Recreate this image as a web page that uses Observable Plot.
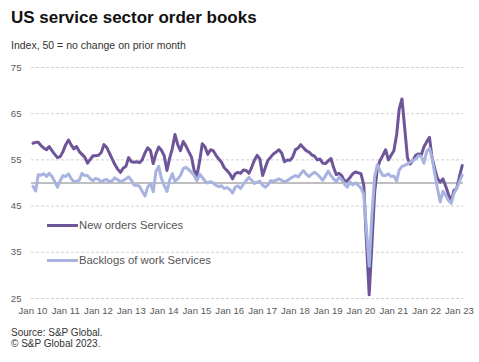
<!DOCTYPE html>
<html><head><meta charset="utf-8">
<script src="https://cdn.jsdelivr.net/npm/d3@7"></script>
<script src="https://cdn.jsdelivr.net/npm/@observablehq/plot@0.6"></script>
<style>
body{margin:0;background:#fff;font-family:"Liberation Sans",Arial,sans-serif;}
#wrap{position:relative;width:479px;height:362px;overflow:hidden;}
#title{position:absolute;left:11px;top:8px;font-size:17px;font-weight:bold;line-height:20px;color:#111;white-space:nowrap;}
#sub{position:absolute;left:11px;top:39px;font-size:10.5px;line-height:12px;color:#333;white-space:nowrap;}
#chart{position:absolute;left:0;top:55px;}
#src{position:absolute;left:11px;top:327px;font-size:10px;line-height:11px;color:#333;white-space:nowrap;}
.leg{position:absolute;left:47px;font-size:11.3px;line-height:14px;color:#555;display:flex;align-items:center;white-space:nowrap;}
.leg .sw{display:inline-block;width:31px;height:3px;margin-right:1px;}
</style></head><body>
<div id="wrap">
  <div id="title">US service sector order books</div>
  <div id="sub">Index, 50 = no change on prior month</div>
  <div id="chart"></div>
  <div class="leg" style="top:218px"><span class="sw" style="background:#6e5599"></span>New orders Services</div>
  <div class="leg" style="top:253px"><span class="sw" style="background:#a9b3e0"></span>Backlogs of work Services</div>
  <div id="src">Source: S&amp;P Global.<br>© S&amp;P Global 2023.</div>
</div>
<script>
// Monthly series, Jan 2010 .. Feb 2023
const startYear = 2010;
const newOrders = [
 58.6,58.8,58.8,58.1,57.6,57.2,57.9,57.0,56.2,55.5,55.7,56.8,
 58.3,59.3,58.3,57.4,57.9,56.8,56.2,55.6,54.3,55.1,55.9,55.9,
 56.0,56.6,58.3,57.7,56.5,55.2,54.0,53.0,52.3,53.2,53.6,55.5,
 54.6,54.5,54.6,54.4,55.0,56.5,57.6,57.0,54.2,56.3,57.8,57.1,
 55.9,52.7,55.2,57.4,60.5,58.3,57.0,59.0,58.0,56.8,55.6,52.7,
 51.6,54.9,58.5,57.8,56.2,57.2,57.0,56.0,55.2,54.5,53.3,52.7,
 52.0,50.9,52.0,52.3,52.1,52.8,52.7,52.1,53.4,54.9,56.0,55.2,
 51.6,53.4,54.9,55.6,56.3,56.7,57.2,56.5,54.6,55.0,54.9,55.6,
 57.2,57.6,58.3,57.6,57.0,56.7,56.1,55.8,55.0,55.2,54.3,54.2,
 54.8,55.3,53.4,51.8,52.1,51.6,50.4,50.5,51.2,52.0,52.4,52.2,
 52.0,49.5,37.5,25.8,36.5,48.0,53.2,54.9,56.0,57.2,55.0,56.0,
 57.0,60.5,66.0,68.2,62.0,55.5,54.1,54.9,56.0,56.3,56.0,57.8,
 58.9,59.9,55.6,53.1,51.0,50.2,50.9,49.3,47.5,46.2,48.4,48.8,
 51.4,53.8
];
const backlogs = [
 49.3,48.3,51.8,51.7,52.0,51.4,52.1,51.4,50.3,49.1,50.5,51.6,
 51.4,52.0,51.0,50.3,50.4,50.6,52.1,51.6,51.6,50.9,50.5,51.0,
 50.8,50.2,50.6,50.8,50.3,50.5,51.1,50.7,50.3,50.5,50.9,51.3,
 50.6,49.5,49.5,49.3,48.2,47.2,49.1,49.9,48.1,52.5,53.6,51.0,
 49.5,48.2,50.5,52.0,50.4,50.9,51.6,53.1,53.4,52.9,52.3,51.6,
 50.5,51.9,51.2,50.4,50.0,50.3,50.0,49.5,49.2,49.4,48.8,49.0,
 48.6,47.8,49.1,49.4,48.8,49.8,50.5,51.2,50.6,49.9,50.2,50.4,
 49.5,49.1,49.6,50.5,50.4,50.6,50.9,50.6,50.2,50.5,50.9,51.3,
 51.6,51.3,52.0,52.7,51.9,51.4,51.9,52.3,51.9,51.3,50.6,51.5,
 52.6,51.6,50.9,50.3,51.2,50.7,49.8,49.1,50.2,49.6,50.0,49.5,
 48.9,47.5,40.0,32.0,43.0,51.4,54.0,52.6,51.6,51.6,52.0,51.4,
 51.5,50.4,52.8,53.6,53.8,54.1,54.5,54.9,55.2,55.9,55.8,54.3,
 56.8,57.5,55.5,52.0,48.8,45.9,48.2,47.3,46.2,45.6,47.8,48.8,
 50.3,51.7
];
const yTicks = [25,35,45,55,65,75];
const tickYears = [2010,2011,2012,2013,2014,2015,2016,2017,2018,2019,2020,2021,2022,2023];
const tickLabels = ["Jan 10","Jan 11","Jan 12","Jan 13","Jan 14","Jan 15","Jan 16","Jan 17","Jan 18","Jan 19","Jan 20","Jan 21","Jan 22","Jan 23"];

const monthDate = i => new Date(Date.UTC(startYear, i, 1));
const newRows = newOrders.map((v,i)=>({date:monthDate(i), value:v}));
const backRows = backlogs.map((v,i)=>({date:monthDate(i), value:v}));
const tickDates = tickYears.map(y=>new Date(Date.UTC(y,0,1)));
const labelOf = new Map(tickDates.map((d,i)=>[+d, tickLabels[i]]));

const chart = Plot.plot({
  width:479, height:265,
  marginLeft:31, marginRight:16, marginTop:12, marginBottom:22,
  style:{fontFamily:"Liberation Sans, Arial, sans-serif", fontSize:"9.6px", color:"#595959", background:"transparent", overflow:"visible"},
  x:{type:"utc", domain:[new Date(Date.UTC(2009,11,16)), new Date(Date.UTC(2023,1,15))],
     ticks:tickDates, tickFormat:d=>labelOf.get(+d), tickSize:0, tickPadding:9, label:null},
  y:{domain:[25,75], ticks:yTicks, tickSize:0, tickPadding:10, label:null},
  marks:[
    Plot.ruleY(yTicks,{stroke:"#d0d0d0", strokeDasharray:"3,2"}),
    Plot.ruleY([50],{stroke:"#808080", strokeWidth:1.2}),
    Plot.lineY(newRows,{x:"date", y:"value", stroke:"#6e5599", strokeWidth:3, strokeLinejoin:"round"}),
    Plot.lineY(backRows,{x:"date", y:"value", stroke:"#a9b3e0", strokeWidth:3, strokeLinejoin:"round"})
  ]
});
document.getElementById("chart").appendChild(chart);
</script>
</body></html>
